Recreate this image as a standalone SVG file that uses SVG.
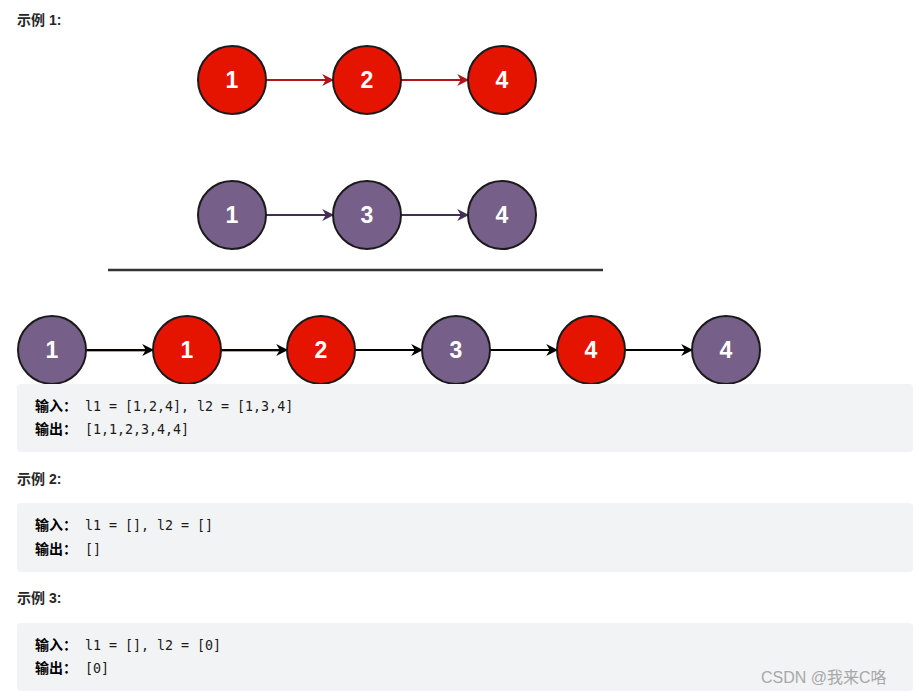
<svg xmlns="http://www.w3.org/2000/svg" width="919" height="696" viewBox="0 0 919 696">
<defs>
<style>
.red{fill:#e51400;stroke:#1a1a1a;stroke-width:2}
.pur{fill:#76608a;stroke:#1a1a1a;stroke-width:2}
.num{fill:#fff;font-family:"Liberation Sans",Arial,sans-serif;font-weight:bold;font-size:23px;text-anchor:middle}
.h{font-family:"Liberation Sans","Noto Sans CJK SC",sans-serif;font-weight:bold;font-size:14px;fill:#262626}
.box{fill:#f2f3f5}
.lab{font-family:"Noto Sans CJK SC",sans-serif;font-weight:bold;font-size:14px;fill:#000}
.code{font-family:"DejaVu Sans Mono","Liberation Mono",monospace;font-size:13.3px;fill:#1a1a1a}
.ar{fill:none;stroke-width:2}
</style>
<marker id="mr" viewBox="0 0 10 10" refX="9" refY="5" markerWidth="6" markerHeight="6" orient="auto" markerUnits="strokeWidth"><path d="M0,0 L10,5 L0,10 L3,5 Z" fill="#b0141a"/></marker>
<marker id="mp" viewBox="0 0 10 10" refX="9" refY="5" markerWidth="6" markerHeight="6" orient="auto" markerUnits="strokeWidth"><path d="M0,0 L10,5 L0,10 L3,5 Z" fill="#432d57"/></marker>
<marker id="mk" viewBox="0 0 10 10" refX="9" refY="5" markerWidth="6" markerHeight="6" orient="auto" markerUnits="strokeWidth"><path d="M0,0 L10,5 L0,10 L3,5 Z" fill="#000"/></marker>
</defs>
<rect width="919" height="696" fill="#fff"/>
<text class="h" x="17" y="25">示例 1:</text>
<g id="connectors">
<line class="ar" x1="266" y1="80" x2="333" y2="80" stroke="#b0141a" marker-end="url(#mr)"/>
<line class="ar" x1="401" y1="80" x2="468" y2="80" stroke="#b0141a" marker-end="url(#mr)"/>
<line class="ar" x1="266" y1="215" x2="333" y2="215" stroke="#432d57" marker-end="url(#mp)"/>
<line class="ar" x1="401" y1="215" x2="468" y2="215" stroke="#432d57" marker-end="url(#mp)"/>
<line x1="86" y1="351" x2="150" y2="351" stroke="#e51400" stroke-width="1"/>
<line x1="221" y1="351" x2="285" y2="351" stroke="#e51400" stroke-width="1"/>
<line class="ar" x1="86" y1="350" x2="153" y2="350" stroke="#000" marker-end="url(#mk)"/>
<line class="ar" x1="221" y1="350" x2="287" y2="350" stroke="#000" marker-end="url(#mk)"/>
<line class="ar" x1="355" y1="350" x2="422" y2="350" stroke="#000" marker-end="url(#mk)"/>
<line class="ar" x1="490" y1="350" x2="557" y2="350" stroke="#000" marker-end="url(#mk)"/>
<line class="ar" x1="625" y1="350" x2="692" y2="350" stroke="#000" marker-end="url(#mk)"/>
</g>
<g id="a1"><circle class="red" cx="232" cy="80" r="34"/><text class="num" x="232" y="88">1</text></g>
<g id="a2"><circle class="red" cx="367" cy="80" r="34"/><text class="num" x="367" y="88">2</text></g>
<g id="a4"><circle class="red" cx="502" cy="80" r="34"/><text class="num" x="502" y="88">4</text></g>
<g id="b1"><circle class="pur" cx="232" cy="215" r="34"/><text class="num" x="232" y="223">1</text></g>
<g id="b3"><circle class="pur" cx="367" cy="215" r="34"/><text class="num" x="367" y="223">3</text></g>
<g id="b4"><circle class="pur" cx="502" cy="215" r="34"/><text class="num" x="502" y="223">4</text></g>
<line x1="108" y1="270" x2="603" y2="270" stroke="#333" stroke-width="2.5"/>
<g id="c1"><circle class="pur" cx="52" cy="350" r="34"/><text class="num" x="52" y="358">1</text></g>
<g id="c2"><circle class="red" cx="187" cy="350" r="34"/><text class="num" x="187" y="358">1</text></g>
<g id="c3"><circle class="red" cx="321" cy="350" r="34"/><text class="num" x="321" y="358">2</text></g>
<g id="c4"><circle class="pur" cx="456" cy="350" r="34"/><text class="num" x="456" y="358">3</text></g>
<g id="c5"><circle class="red" cx="591" cy="350" r="34"/><text class="num" x="591" y="358">4</text></g>
<g id="c6"><circle class="pur" cx="726" cy="350" r="34"/><text class="num" x="726" y="358">4</text></g>
<rect class="box" x="17" y="384" width="896" height="68" rx="4"/>
<text class="lab" x="35" y="411">输入：</text><text class="code" x="85" y="411">l1 = [1,2,4], l2 = [1,3,4]</text>
<text class="lab" x="35" y="434">输出：</text><text class="code" x="85" y="434">[1,1,2,3,4,4]</text>
<text class="h" x="17" y="484">示例 2:</text>
<rect class="box" x="17" y="503" width="896" height="69" rx="4"/>
<text class="lab" x="35" y="530">输入：</text><text class="code" x="85" y="530">l1 = [], l2 = []</text>
<text class="lab" x="35" y="554">输出：</text><text class="code" x="85" y="554">[]</text>
<text class="h" x="17" y="603">示例 3:</text>
<rect class="box" x="17" y="623" width="896" height="68" rx="4"/>
<text class="lab" x="35" y="650">输入：</text><text class="code" x="85" y="650">l1 = [], l2 = [0]</text>
<text class="lab" x="35" y="673">输出：</text><text class="code" x="85" y="673">[0]</text>
<text x="761" y="683" font-family="'Liberation Sans','Noto Sans CJK SC',sans-serif" font-size="16" fill="#a8a8a8">CSDN @我来C咯</text>
</svg>
